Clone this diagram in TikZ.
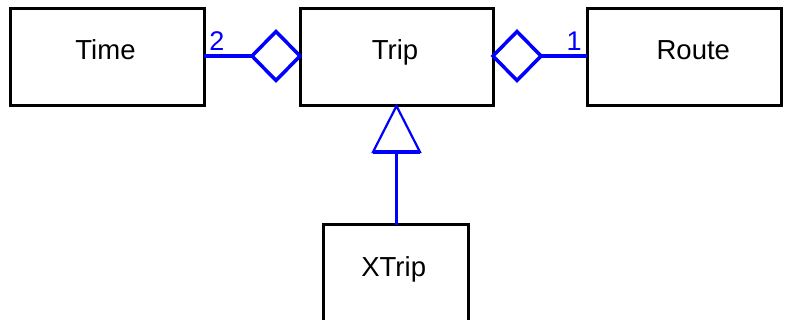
\documentclass[tikz,border=0pt]{standalone}
\usepackage{fontspec}
\setmainfont{Liberation Sans}
\usetikzlibrary{shapes.geometric,calc}
\begin{document}
\begin{tikzpicture}[x=1pt,y=-1pt,
  box/.style={draw=black,line width=3pt,minimum height=97pt,inner sep=0pt,outer sep=0pt},
  lbl/.style={font=\fontsize{27.5}{32}\selectfont,anchor=base,inner sep=0pt},
  mult/.style={font=\fontsize{27}{32}\selectfont,text=blue,anchor=base,inner sep=0pt},
  assoc/.style={draw=blue,line width=3.8pt},
  agg/.style={diamond,draw=blue,line width=3.5pt,minimum width=48pt,minimum height=49pt,inner sep=0pt,outer sep=0pt,fill=white},
  gen/.style={draw=blue,line width=2.2pt,fill=white,line join=miter},
]
\useasboundingbox (0,0) rectangle (794,320);
% classes
\node[box,minimum width=194pt] (time)  at (107,57.5)   {};
\node[box,minimum width=193pt] (trip)  at (396.5,57.5) {};
\node[box,minimum width=194pt] (route) at (684,57.5)   {};
\node[box,minimum width=145pt] (xtrip) at (395.5,273.5) {};
\node[lbl] (timet)  at (105.5,59.3) {Time};
\node[lbl] (tript)  at (395,59.3)   {Trip};
\node[lbl] (routet) at (693.3,59.3) {Route};
\node[lbl] (xtript) at (393.7,276.7) {XTrip};
% aggregations
\node[agg,anchor=east] (d1) at ($(trip.west)+(0,-1.5)$) {};
\node[agg,anchor=west] (d2) at ($(trip.east)+(0,-1.5)$) {};
\draw[assoc] (time.east |- d1.west) -- (d1.west);
\draw[assoc] (d2.east) -- (route.west |- d2.east);
\node[mult] (m2) at (217,51) {2};
\node[mult] (m1) at (574,51) {1};
% generalisation
\coordinate (tb) at ($(trip.south)+(0,46)$);
\coordinate (tl) at ($(tb)+(-23.5,0)$);
\coordinate (tr) at ($(tb)+(23.5,0)$);
\draw[gen] (trip.south) -- (tl) -- (tr) -- cycle;
\draw[blue,line width=3.5pt] (tl) -- (tr);
\draw[assoc] (tb |- xtrip.north) -- (tb);
\end{tikzpicture}
\end{document}
